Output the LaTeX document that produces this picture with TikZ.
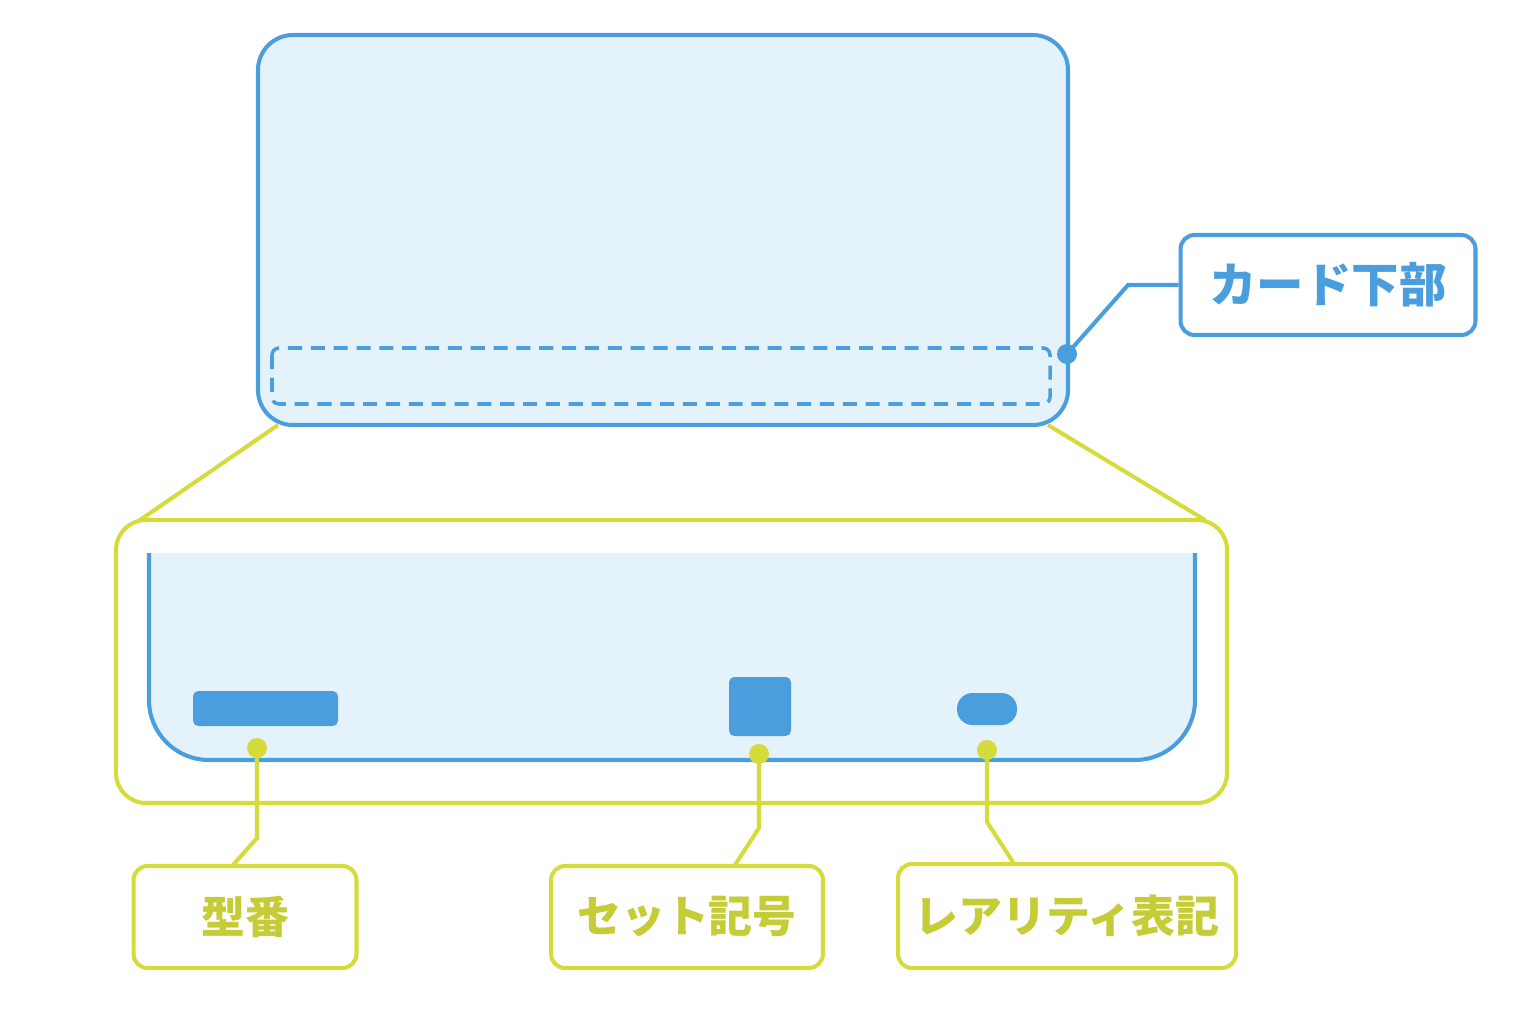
\documentclass[tikz,border=0pt]{standalone}
\usepackage{fontspec}
\setmainfont{Noto Sans CJK JP}
\usetikzlibrary{positioning}
\definecolor{cardblue}{HTML}{4A9EDD}
\definecolor{cardfill}{HTML}{E4F2FB}
\definecolor{limeline}{HTML}{D4DB3A}
\tikzset{
  blue line/.style  = {draw = cardblue, line width = 2.3pt},
  lime line/.style  = {draw = limeline, line width = 2.3pt},
  callout/.style    = {rectangle, rounded corners = 8pt, line width = 2.3pt, fill = white, inner sep = 0pt},
  blue box/.style   = {callout, draw = cardblue, text = cardblue, font = \fontsize{27}{32}\selectfont\bfseries},
  lime box/.style   = {callout, draw = limeline, text = limeline!93!black, font = \fontsize{25}{30}\selectfont\bfseries},
  symbol mark/.style = {fill = cardblue, rounded corners = 3pt}
}
\begin{document}
\begin{tikzpicture}[x=0.02cm, y=-0.02cm]
\useasboundingbox (0,0) rectangle (1536,1024);
% card
\draw[blue line, fill = cardfill, rounded corners = 0.7cm] (258,35) rectangle (1068,425);
\draw[cardblue, line width = 2pt, dash pattern = on 8pt off 5pt, rounded corners = 4pt] (272,348) rectangle (1050,404);
\coordinate (cardbl) at (278,425);
\coordinate (cardbr) at (1048,425);
% zoom frame
\draw[lime line, rounded corners = 0.6cm] (116,520) rectangle (1227,803);
\coordinate (zoomtl) at (140,520);
\coordinate (zoomtr) at (1205,520);
\draw[lime line] (cardbl) -- (zoomtl);
\draw[lime line] (cardbr) -- (zoomtr);
% enlarged card bottom
\fill[cardfill, rounded corners = 1.2cm] (149,553) -- (149,760) -- (1195,760) -- (1195,553) -- cycle;
\fill[cardfill] (149,553) rectangle (1195,640);
\draw[blue line, rounded corners = 1.2cm] (149,553) -- (149,760) -- (1195,760) -- (1195,553);
\fill[symbol mark] (193,691) rectangle (338,726);
\fill[symbol mark] (729,677) rectangle (791,736);
\fill[cardblue, rounded corners = 0.31cm] (957,693) rectangle (1017,725);
% callouts
\node[blue box, minimum width = 5.9cm, minimum height = 2cm] (lower) at (1328,285) {カード下部};
\node[lime box, minimum width = 4.46cm, minimum height = 2.04cm] (model) at (245,917) {型番};
\node[lime box, minimum width = 5.44cm, minimum height = 2.04cm] (setmark) at (687,917) {セット記号};
\node[lime box, minimum width = 6.76cm, minimum height = 2.08cm] (rarity) at (1067,916) {レアリティ表記};
\node[circle, fill = cardblue, inner sep = 0pt, minimum size = 0.4cm] (dotlower) at (1067,354) {};
\node[circle, fill = limeline, inner sep = 0pt, minimum size = 0.4cm] (dotmodel) at (257,748) {};
\node[circle, fill = limeline, inner sep = 0pt, minimum size = 0.4cm] (dotset) at (759,754) {};
\node[circle, fill = limeline, inner sep = 0pt, minimum size = 0.4cm] (dotrarity) at (987,750) {};
\draw[blue line] (dotlower.center) -- (1128,285) -- (lower.west);
\draw[lime line] (dotmodel.center) -- (257,838) -- (233,865);
\draw[lime line] (dotset.center) -- (759,828) -- (735,865);
\draw[lime line] (dotrarity.center) -- (987,822) -- (1013,862);
\end{tikzpicture}
\end{document}
